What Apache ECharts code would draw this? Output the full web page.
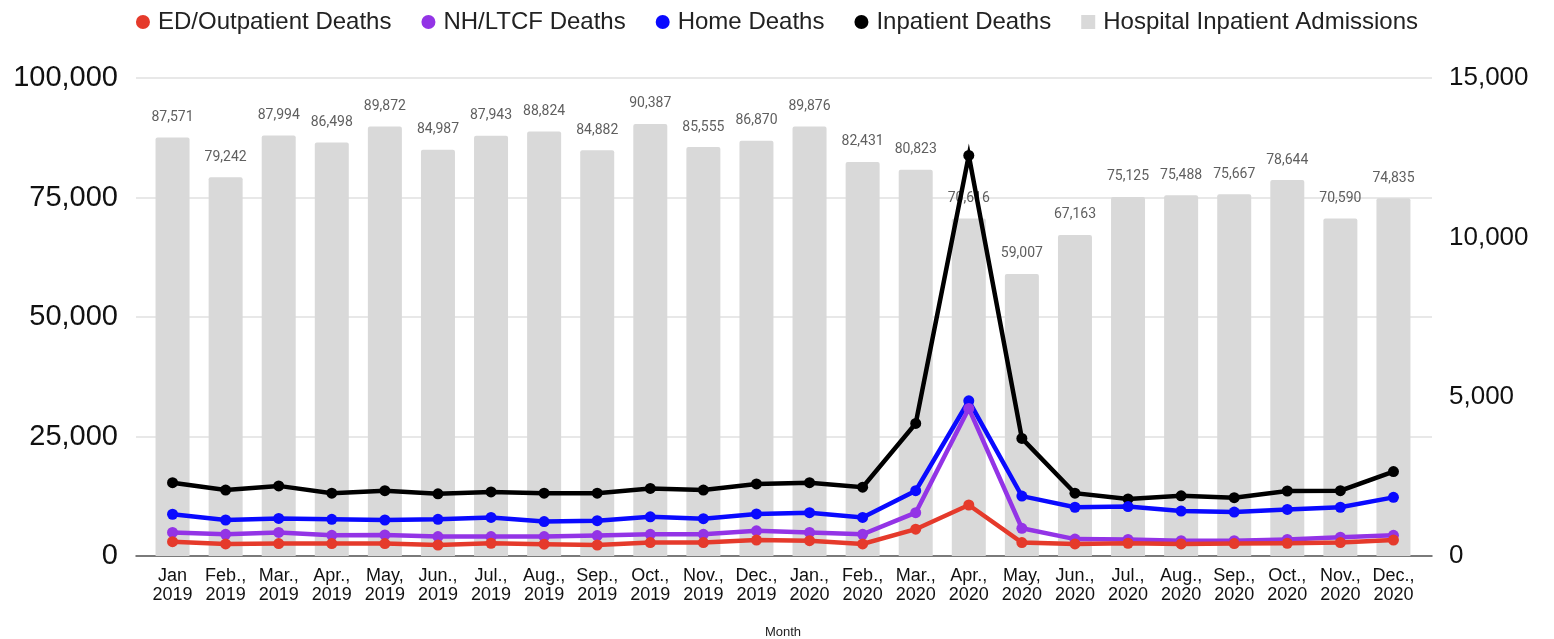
<!DOCTYPE html>
<html>
<head>
<meta charset="utf-8">
<script src="https://cdn.jsdelivr.net/npm/echarts@6/dist/echarts.min.js"></script>
<style>
html,body{margin:0;padding:0;background:#fff;}
#chart{width:1554px;height:639px;}
</style>
</head>
<body>
<div id="chart"></div>
<script>
const months = ["Jan\n2019","Feb.,\n2019","Mar.,\n2019","Apr.,\n2019","May,\n2019","Jun.,\n2019","Jul.,\n2019","Aug.,\n2019","Sep.,\n2019","Oct.,\n2019","Nov.,\n2019","Dec.,\n2019",
"Jan.,\n2020","Feb.,\n2020","Mar.,\n2020","Apr.,\n2020","May,\n2020","Jun.,\n2020","Jul.,\n2020","Aug.,\n2020","Sep.,\n2020","Oct.,\n2020","Nov.,\n2020","Dec.,\n2020"];
const admissions = [87571,79242,87994,86498,89872,84987,87943,88824,84882,90387,85555,86870,89876,82431,80823,70616,59007,67163,75125,75488,75667,78644,70590,74835];
const inpatientDeaths = [2300,2070,2200,1970,2050,1950,2010,1970,1970,2120,2070,2260,2300,2160,4160,12570,3690,1970,1790,1890,1830,2040,2050,2650];
const homeDeaths = [1310,1130,1180,1150,1130,1150,1210,1080,1110,1230,1170,1320,1360,1210,2050,4870,1880,1530,1550,1410,1380,1460,1530,1840];
const nhDeaths = [740,680,740,650,660,610,610,610,640,680,680,790,740,680,1360,4630,870,530,520,480,480,520,590,650];
const edDeaths = [450,380,390,390,390,345,400,370,345,420,420,500,480,380,840,1600,420,380,400,380,390,400,420,500];
const leftTicks = [0,25000,50000,75000,100000];
const rightTicks = [0,5000,10000,15000];

const fmt = v => Number(v).toLocaleString('en-US');
const chart = echarts.init(document.getElementById('chart'), null, {renderer:'canvas'});
const lineSeries = (name, data, color) => ({
  name, type:'line', data, xAxisIndex:1, yAxisIndex:3,
  symbol:'circle', symbolSize:11, showSymbol:true,
  itemStyle:{color},
  lineStyle:{color, width:4.5, join:'miter', miterLimit:10},
  emphasis:{disabled:true}, animation:false
});
chart.setOption({
  animation:false,
  textStyle:{fontFamily:'Liberation Sans, Arial, sans-serif'},
  legend:{
    top:5, left:'center', itemGap:30, itemWidth:14, itemHeight:14,
    textStyle:{fontSize:24, color:'#222', fontFamily:'Liberation Sans, Arial, sans-serif', padding:[0,0,0,3]},
    data:[
      {name:'ED/Outpatient Deaths', icon:'circle'},
      {name:'NH/LTCF Deaths', icon:'circle'},
      {name:'Home Deaths', icon:'circle'},
      {name:'Inpatient Deaths', icon:'circle'},
      {name:'Hospital Inpatient Admissions', icon:'rect'}
    ]
  },
  grid:[
    {left:136, right:122, top:78, bottom:83, containLabel:false, outerBoundsMode:'none'},
    {left:146, right:134, top:78, bottom:83, containLabel:false, outerBoundsMode:'none'}
  ],
  xAxis:[
    {type:'value', gridIndex:0, min:0, max:1, axisLabel:{show:false}, axisTick:{show:false}, splitLine:{show:false},
     axisLine:{show:true, onZero:false, lineStyle:{color:'#555', width:1.5}}},
    {type:'category', gridIndex:1, data:months, axisLine:{show:false}, axisTick:{show:false},
     axisLabel:{fontSize:18, lineHeight:19, color:'#111', margin:11, interval:0},
     name:'Month', nameLocation:'middle', nameGap:70, nameTextStyle:{fontSize:13, color:'#222'}}
  ],
  yAxis:[
    {type:'value', gridIndex:0, position:'left', min:0, max:100000, interval:25000,
     axisLabel:{fontSize:29, color:'#111', margin:18, formatter:v=>fmt(v)},
     axisLine:{show:false}, axisTick:{show:false},
     splitLine:{show:true, lineStyle:{color:'#e0e0e0', width:1.5}}},
    {type:'value', gridIndex:0, position:'right', min:0, max:15000, interval:5000,
     axisLabel:{fontSize:26, color:'#111', margin:17, formatter:v=>fmt(v)},
     axisLine:{show:false}, axisTick:{show:false}, splitLine:{show:false}},
    {type:'value', gridIndex:1, min:0, max:100000, show:false, splitLine:{show:false}},
    {type:'value', gridIndex:1, min:0, max:15000, show:false, splitLine:{show:false}}
  ],
  series:[
    {name:'Hospital Inpatient Admissions', type:'bar', data:admissions, xAxisIndex:1, yAxisIndex:2,
     barWidth:34, itemStyle:{color:'#d9d9d9', borderRadius:[2,2,0,0]},
     label:{show:true, position:'top', distance:13, fontSize:14, color:'#5f5f5f', fontFamily:'Roboto, sans-serif', formatter:p=>fmt(p.value)},
     emphasis:{disabled:true}},
    lineSeries('Inpatient Deaths', inpatientDeaths, '#000000'),
    lineSeries('Home Deaths', homeDeaths, '#0a0aff'),
    lineSeries('NH/LTCF Deaths', nhDeaths, '#9334e6'),
    lineSeries('ED/Outpatient Deaths', edDeaths, '#e53a2b')
  ]
});
</script>
</body>
</html>
